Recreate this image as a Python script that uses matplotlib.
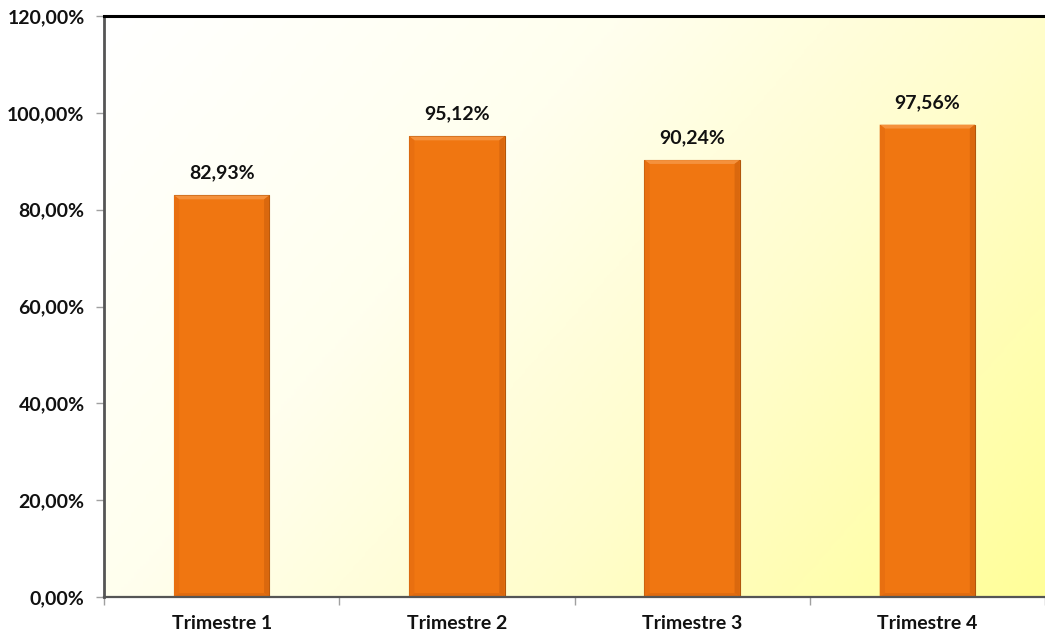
import numpy as np
import matplotlib
matplotlib.use("Agg")
import matplotlib.pyplot as plt
from matplotlib.colors import LinearSegmentedColormap

categories = ["Trimestre 1", "Trimestre 2", "Trimestre 3", "Trimestre 4"]
values = [82.93, 95.12, 90.24, 97.56]
yticks = [0, 20, 40, 60, 80, 100, 120]

plt.rcParams['font.family'] = ['Lato', 'DejaVu Sans']

fig = plt.figure(figsize=(10.45, 6.34), dpi=100)
ax = fig.add_axes([104/1045, 1-597/634, (1045-104)/1045, (597-16)/634])

# background gradient (top-left white -> bottom-right yellow)
ny, nx = 200, 300
yy, xx = np.mgrid[0:1:ny*1j, 0:1:nx*1j]
t = np.clip(xx*0.65 + yy*0.35, 0, 1)
cmap = LinearSegmentedColormap.from_list(
    "bg", [(0, "#FFFFFF"), (0.36, "#FFFFEE"), (0.65, "#FFFDCC"), (1.0, "#FFFF99")])
ax.imshow(t, cmap=cmap, vmin=0, vmax=1, extent=[0, 1, 0, 1], transform=ax.transAxes,
          aspect='auto', origin='upper', zorder=0, interpolation='bilinear')

x = np.arange(len(categories))
w = 0.405
bars = ax.bar(x, values, width=w, color="#F07611", edgecolor="#B0560C",
              linewidth=0.8, zorder=2)

# bevel effect
for xi, v in zip(x, values):
    dx = 0.022
    dy = 0.8
    ax.fill([xi - w/2, xi + w/2, xi + w/2 - dx, xi - w/2 + dx],
            [v, v, v - dy, v - dy], color="#F5913C", lw=0, zorder=3)
    ax.fill([xi - w/2, xi - w/2 + dx, xi - w/2 + dx, xi - w/2],
            [v, v - dy, dy, 0], color="#E86F10", lw=0, zorder=3)
    ax.fill([xi + w/2, xi + w/2 - dx, xi + w/2 - dx, xi + w/2],
            [v, v - dy, dy, 0], color="#DA680E", lw=0, zorder=3)
    ax.fill([xi - w/2, xi + w/2, xi + w/2 - dx, xi - w/2 + dx],
            [0, 0, dy, dy], color="#E06B0F", lw=0, zorder=3)
    ax.annotate(f"{v:.2f}%".replace(".", ","), (xi, v), xytext=(0, 10),
                textcoords="offset points", ha="center", va="bottom",
                fontsize=14, fontweight="bold", color="#111111", zorder=5)

ax.set_xlim(-0.5, 3.5)
ax.set_ylim(0, 120)
ax.set_yticks(yticks)
ax.set_yticklabels([f"{v:.2f}%".replace(".", ",") for v in yticks],
                   fontsize=14, fontweight="bold", color="#111111")
ax.set_xticks(x)
ax.set_xticklabels(categories, fontsize=14, fontweight="bold", color="#111111")
ax.tick_params(axis='x', length=0, pad=13)
ax.set_xticks(np.arange(-0.5, 4.0, 1.0), minor=True)
ax.tick_params(axis='x', which='minor', length=6, color="#A0A0A0", width=1)
ax.tick_params(axis='y', length=6, color="#A0A0A0", width=1, pad=8)

ax.spines["top"].set_color("#000000")
ax.spines["top"].set_linewidth(2.2)
ax.spines["left"].set_color("#555555")
ax.spines["left"].set_linewidth(2.0)
ax.spines["bottom"].set_color("#555555")
ax.spines["bottom"].set_linewidth(1.6)
ax.spines["right"].set_visible(False)
for s in ax.spines.values():
    s.set_zorder(6)

fig.savefig("out.png", dpi=100)
